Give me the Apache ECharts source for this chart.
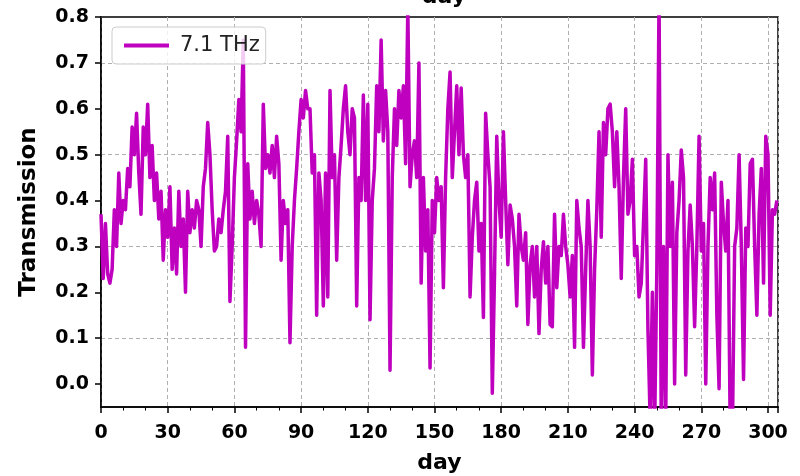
<!DOCTYPE html>
<html>
<head>
<meta charset="utf-8">
<script src="https://cdn.jsdelivr.net/npm/echarts@6/dist/echarts.min.js"></script>
<style>html,body{margin:0;padding:0;background:#fff;}#c{width:800px;height:476px;}</style>
</head>
<body>
<div id="c"></div>
<script>
const seriesName = '7.1 THz';
const transmission = [
0.37,0.23,0.35,0.24,0.22,0.25,0.38,0.30,0.46,0.35,
0.40,0.38,0.47,0.43,0.56,0.50,0.59,0.46,0.37,0.56,
0.50,0.61,0.45,0.52,0.40,0.46,0.36,0.42,0.27,0.38,
0.32,0.43,0.25,0.34,0.24,0.42,0.30,0.36,0.20,0.42,
0.33,0.38,0.34,0.40,0.38,0.30,0.43,0.47,0.57,0.50,
0.38,0.29,0.30,0.36,0.33,0.38,0.42,0.54,0.18,0.30,
0.45,0.53,0.62,0.55,0.75,0.08,0.48,0.36,0.42,0.35,
0.40,0.37,0.30,0.61,0.47,0.50,0.46,0.52,0.45,0.54,
0.48,0.27,0.40,0.35,0.38,0.09,0.30,0.40,0.47,0.55,
0.62,0.58,0.64,0.60,0.60,0.46,0.50,0.15,0.46,0.40,
0.17,0.46,0.19,0.64,0.45,0.50,0.27,0.45,0.52,0.60,
0.65,0.55,0.50,0.60,0.58,0.17,0.45,0.40,0.63,0.40,
0.61,0.14,0.40,0.47,0.65,0.55,0.75,0.53,0.64,0.55,
0.03,0.45,0.60,0.52,0.64,0.58,0.65,0.48,0.82,0.43,
0.50,0.53,0.45,0.70,0.22,0.45,0.29,0.38,0.035,0.40,
0.33,0.45,0.40,0.43,0.21,0.45,0.60,0.68,0.45,0.55,
0.65,0.50,0.645,0.50,0.45,0.50,0.19,0.32,0.40,0.44,
0.29,0.35,0.145,0.59,0.50,0.43,-0.02,0.24,0.54,0.40,
0.32,0.55,0.40,0.26,0.39,0.36,0.30,0.17,0.37,0.30,
0.27,0.33,0.13,0.26,0.30,0.19,0.30,0.11,0.25,0.31,
0.22,0.30,0.13,0.125,0.37,0.21,0.30,0.28,0.37,0.30,
0.26,0.19,0.28,0.08,0.40,0.34,0.30,0.08,0.25,0.40,
0.30,0.02,0.25,0.38,0.55,0.32,0.57,0.50,0.60,0.61,
0.55,0.43,0.55,0.43,0.23,0.45,0.60,0.37,0.40,0.49,
0.28,0.30,0.19,0.22,0.35,0.49,0.12,-0.08,0.20,-0.10,
0.25,0.85,-0.10,0.30,-0.08,0.50,0.30,0.44,0.00,0.33,
0.40,0.51,0.45,0.02,0.29,0.39,0.30,0.125,0.30,0.54,
0.29,0.35,0.00,0.30,0.45,0.38,0.46,0.15,-0.01,0.44,
0.35,0.29,0.40,-0.10,-0.10,0.30,0.34,0.50,0.30,0.01,
0.34,0.30,0.48,0.49,0.30,0.15,0.37,0.47,0.22,0.54,
0.50,0.15,0.38,0.37,0.40
];
const days = transmission.map((v, i) => i);
const yTickValues = [0.0, 0.1, 0.2, 0.3, 0.4, 0.5, 0.6, 0.7, 0.8];

const chart = echarts.init(document.getElementById('c'), null, {renderer: 'canvas'});
const font = 'DejaVu Sans';
chart.setOption({
  animation: false,
  backgroundColor: '#fff',
  title: {
    text: 'day', left: 439, textAlign: 'center', top: -19,
    textStyle: {fontFamily: font, fontWeight: 'bold', fontSize: 22, color: '#000'}
  },
  legend: {
    left: 112, top: 27,
    padding: [8, 6, 8, 12],
    itemWidth: 45, itemHeight: 4, itemGap: 10,
    icon: 'rect',
    borderColor: '#cccccc', borderWidth: 1, borderRadius: 4,
    backgroundColor: 'rgba(255,255,255,0.8)',
    textStyle: {fontFamily: font, fontSize: 21, color: '#222', padding: [0, 0, 0, 6]},
    data: [seriesName]
  },
  grid: {
    left: 101, right: 22, top: 17, bottom: 69,
    outerBoundsMode: 'none', containLabel: false,
    show: true, borderColor: '#000', borderWidth: 1.5, backgroundColor: 'transparent'
  },
  xAxis: {
    type: 'value', min: 0, max: 304.5, interval: 30,
    name: 'day', nameLocation: 'middle', nameGap: 45,
    nameTextStyle: {fontFamily: font, fontWeight: 'bold', fontSize: 22, color: '#000'},
    axisLine: {show: true, onZero: false, lineStyle: {color: '#000', width: 1.5}},
    axisTick: {show: true, inside: false, length: 6, lineStyle: {color: '#000', width: 1.5}},
    minorTick: {show: true, splitNumber: 3, length: 3.5, lineStyle: {color: '#000', width: 1}},
    axisLabel: {fontFamily: font, fontWeight: 'bold', fontSize: 19, color: '#000', margin: 17,
      showMaxLabel: true, formatter: v => (v % 30 === 0 ? String(v) : '')},
    splitLine: {show: true, lineStyle: {color: '#b0b0b0', type: [4, 3], width: 1}}
  },
  yAxis: {
    type: 'value', min: -0.05, max: 0.8, interval: 0.05,
    name: 'Transmission', nameLocation: 'middle', nameGap: 60, nameRotate: 90,
    nameTextStyle: {fontFamily: font, fontWeight: 'bold', fontSize: 23, color: '#000'},
    axisLine: {show: true, onZero: false, lineStyle: {color: '#000', width: 1.5}},
    axisTick: {show: true, length: 6, customValues: yTickValues, lineStyle: {color: '#000', width: 1.5}},
    axisLabel: {fontFamily: font, fontWeight: 'bold', fontSize: 19, color: '#000', margin: 12,
      customValues: yTickValues, formatter: v => v.toFixed(1)},
    splitLine: {show: true, lineStyle: {color: ['rgba(0,0,0,0)', '#b0b0b0'], type: [4, 3], width: 1}}
  },
  series: [{
    name: seriesName, type: 'line',
    data: days.map((d, i) => [d, transmission[i]]),
    symbol: 'none', showSymbol: false, clip: true,
    lineStyle: {color: '#bf00bf', width: 3.5, join: 'round'},
    itemStyle: {color: '#bf00bf'}
  }]
});
</script>
</body>
</html>
